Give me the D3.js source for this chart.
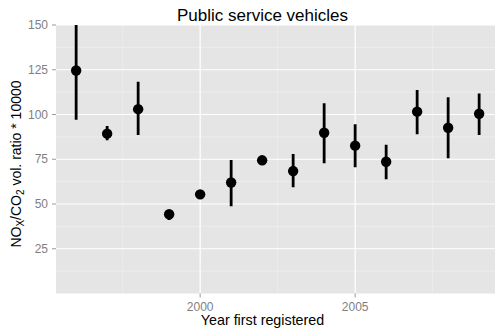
<!DOCTYPE html>
<html>
<head>
<meta charset="utf-8">
<script src="https://cdn.jsdelivr.net/npm/d3@7"></script>
<style>
  html, body { margin: 0; padding: 0; background: #fff; }
  svg { display: block; font-family: "Liberation Sans", Arial, sans-serif; }
</style>
</head>
<body>
<svg id="chart" width="495" height="329"></svg>
<script>
const years  = [1996, 1997, 1998, 1999, 2000, 2001, 2002, 2003, 2004, 2005, 2006, 2007, 2008, 2009];
const means  = [124.6, 89.3, 103.0, 44.3, 55.4, 62.0, 74.4, 68.4, 89.8, 82.6, 73.6, 101.6, 92.6, 100.4];
const lowers = [97.0, 85.6, 88.5, 41.0, 54.5, 48.7, 73.6, 59.3, 72.7, 70.6, 63.8, 88.9, 75.5, 88.5];
const uppers = [156.0, 93.6, 118.3, 46.4, 56.3, 74.6, 75.2, 78.0, 106.3, 94.5, 83.1, 113.7, 109.6, 111.8];
const yTicks = [25, 50, 75, 100, 125, 150];
const yMinor = [12.5, 37.5, 62.5, 87.5, 112.5, 137.5];
const xTicks = [2000, 2005];
const xMinor = [1997.5, 2002.5, 2007.5];
const titleText = "Public service vehicles";
const xTitle = "Year first registered";

const svg = d3.select("#chart");
const panel = { left: 56, top: 25, right: 499.3, bottom: 293.5 };

const x = d3.scaleLinear().domain([1995.35, 2009.65]).range([panel.left, panel.right]);
const y = d3.scaleLinear().domain([0, 150]).range([panel.bottom, panel.top]);

svg.append("defs").append("clipPath").attr("id", "clip")
  .append("rect").attr("x", panel.left).attr("y", panel.top)
  .attr("width", panel.right - panel.left).attr("height", panel.bottom - panel.top);

svg.append("rect").attr("x", panel.left).attr("y", panel.top)
  .attr("width", panel.right - panel.left).attr("height", panel.bottom - panel.top)
  .attr("fill", "#E5E5E5");

const g = svg.append("g").attr("clip-path", "url(#clip)");

// minor grid
g.selectAll(".ym").data(yMinor).join("line")
  .attr("x1", panel.left).attr("x2", panel.right)
  .attr("y1", d => y(d)).attr("y2", d => y(d))
  .attr("stroke", "#F2F2F2").attr("stroke-width", 0.6);
g.selectAll(".xm").data(xMinor).join("line")
  .attr("y1", panel.top).attr("y2", panel.bottom)
  .attr("x1", d => x(d)).attr("x2", d => x(d))
  .attr("stroke", "#F2F2F2").attr("stroke-width", 0.6);
// major grid
g.selectAll(".yM").data(yTicks).join("line")
  .attr("x1", panel.left).attr("x2", panel.right)
  .attr("y1", d => y(d)).attr("y2", d => y(d))
  .attr("stroke", "#FFFFFF").attr("stroke-width", 1.2);
g.selectAll(".xM").data(xTicks).join("line")
  .attr("y1", panel.top).attr("y2", panel.bottom)
  .attr("x1", d => x(d)).attr("x2", d => x(d))
  .attr("stroke", "#FFFFFF").attr("stroke-width", 1.2);

// error bars
g.selectAll(".err").data(years).join("line")
  .attr("x1", d => x(d)).attr("x2", d => x(d))
  .attr("y1", (d, i) => y(lowers[i])).attr("y2", (d, i) => y(uppers[i]))
  .attr("stroke", "#000").attr("stroke-width", 2.8);

// points
g.selectAll(".pt").data(years).join("circle")
  .attr("cx", d => x(d)).attr("cy", (d, i) => y(means[i]))
  .attr("r", 5.2).attr("fill", "#000");

// y axis ticks & labels
svg.selectAll(".ytk").data(yTicks).join("line")
  .attr("x1", panel.left - 4).attr("x2", panel.left)
  .attr("y1", d => y(d)).attr("y2", d => y(d))
  .attr("stroke", "#7F7F7F").attr("stroke-width", 0.8);
svg.selectAll(".ylb").data(yTicks).join("text")
  .attr("x", panel.left - 8).attr("y", d => y(d))
  .attr("dy", "0.35em").attr("text-anchor", "end")
  .attr("font-size", 12).attr("fill", "#7F7F7F")
  .text(d => d);

// x axis ticks & labels
svg.selectAll(".xtk").data(xTicks).join("line")
  .attr("x1", d => x(d)).attr("x2", d => x(d))
  .attr("y1", panel.bottom).attr("y2", panel.bottom + 4)
  .attr("stroke", "#7F7F7F").attr("stroke-width", 0.8);
svg.selectAll(".xlb").data(xTicks).join("text")
  .attr("x", d => x(d)).attr("y", 311)
  .attr("text-anchor", "middle")
  .attr("font-size", 12).attr("fill", "#7F7F7F")
  .text(d => d);

// titles
svg.append("text").attr("x", 262.5).attr("y", 21)
  .attr("text-anchor", "middle").attr("font-size", 17).attr("fill", "#000")
  .text(titleText);
svg.append("text").attr("x", 262.5).attr("y", 325)
  .attr("text-anchor", "middle").attr("font-size", 14.3).attr("fill", "#000")
  .text(xTitle);

const yt = svg.append("text")
  .attr("transform", "translate(21,164) rotate(-90)")
  .attr("text-anchor", "middle").attr("font-size", 14).attr("fill", "#000");
yt.append("tspan").text("NO");
yt.append("tspan").attr("font-size", 10).attr("dy", 3).text("X");
yt.append("tspan").attr("dy", -3).text("/CO");
yt.append("tspan").attr("font-size", 10).attr("dy", 3).text("2");
yt.append("tspan").attr("dy", -3).text(" vol. ratio * 10000");
</script>
</body>
</html>
